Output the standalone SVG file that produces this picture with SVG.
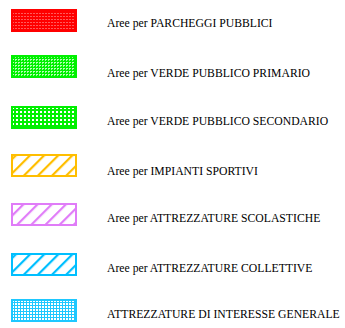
<svg xmlns="http://www.w3.org/2000/svg" width="345" height="328" viewBox="0 0 345 328">
<defs>
<pattern id="pRed" width="3" height="3" patternUnits="userSpaceOnUse" x="12" y="10">
<rect width="3" height="3" fill="#ff0000"/>
<rect width="2" height="1" fill="#ff5a5a"/>
</pattern>
<pattern id="pGreen1" width="3" height="3" patternUnits="userSpaceOnUse" x="12" y="56">
<rect width="3" height="3" fill="#00f000"/>
<rect width="2" height="1" fill="#b8ffb8"/>
<rect y="1" width="1" height="1" fill="#90ff90"/>
</pattern>
<pattern id="pGreen2" width="4" height="4" patternUnits="userSpaceOnUse" x="12" y="107">
<rect width="4" height="4" fill="#00f000"/>
<rect width="2" height="2" fill="#ffffff"/>
</pattern>
<pattern id="pCyan" width="3" height="3" patternUnits="userSpaceOnUse" x="12" y="300">
<rect width="3" height="3" fill="#1ec8ff"/>
<rect width="2" height="2" fill="#ffffff"/>
</pattern>
<pattern id="hOrange" width="10" height="10" patternUnits="userSpaceOnUse" patternTransform="rotate(45)">
<rect width="10" height="10" fill="#ffffff"/>
<rect x="0" width="2.2" height="10" fill="#ffbe00"/>
</pattern>
<pattern id="hPurple" width="10" height="10" patternUnits="userSpaceOnUse" patternTransform="rotate(45)">
<rect width="10" height="10" fill="#ffffff"/>
<rect x="0" width="2.2" height="10" fill="#e07cf8"/>
</pattern>
<pattern id="hBlue" width="10" height="10" patternUnits="userSpaceOnUse" patternTransform="rotate(45)">
<rect width="10" height="10" fill="#ffffff"/>
<rect x="0" width="2.2" height="10" fill="#00bfff"/>
</pattern>
</defs>
<style>
.sw{stroke-width:2}
.t{font-family:"Liberation Serif","Times New Roman",serif;font-size:11.7px;fill:#000}
</style>
<g id="parcheggi">
<rect class="sw" x="12" y="10" width="64" height="21" fill="url(#pRed)" stroke="#ff0000"/>
<text class="t" x="107" y="27">Aree per PARCHEGGI PUBBLICI</text>
</g>
<g id="verde-primario">
<rect class="sw" x="12" y="56" width="64" height="21" fill="url(#pGreen1)" stroke="#00f000"/>
<text class="t" x="107" y="77">Aree per VERDE PUBBLICO PRIMARIO</text>
</g>
<g id="verde-secondario">
<rect class="sw" x="12" y="107" width="64" height="21" fill="url(#pGreen2)" stroke="#00f000"/>
<text class="t" x="107" y="125">Aree per VERDE PUBBLICO SECONDARIO</text>
</g>
<g id="sportivi">
<rect class="sw" x="12" y="155" width="64" height="21" fill="url(#hOrange)" stroke="#ffbe00"/>
<text class="t" x="107" y="175">Aree per IMPIANTI SPORTIVI</text>
</g>
<g id="scolastiche">
<rect class="sw" x="12" y="204" width="64" height="21" fill="url(#hPurple)" stroke="#e07cf8"/>
<text class="t" x="107" y="222">Aree per ATTREZZATURE SCOLASTICHE</text>
</g>
<g id="collettive">
<rect class="sw" x="12" y="254" width="64" height="21" fill="url(#hBlue)" stroke="#00bfff"/>
<text class="t" x="107" y="272">Aree per ATTREZZATURE COLLETTIVE</text>
</g>
<g id="interesse-generale">
<rect class="sw" x="12" y="300" width="64" height="21" fill="url(#pCyan)" stroke="#1ec8ff"/>
<text class="t" x="107" y="318">ATTREZZATURE DI INTERESSE GENERALE</text>
</g>
</svg>
